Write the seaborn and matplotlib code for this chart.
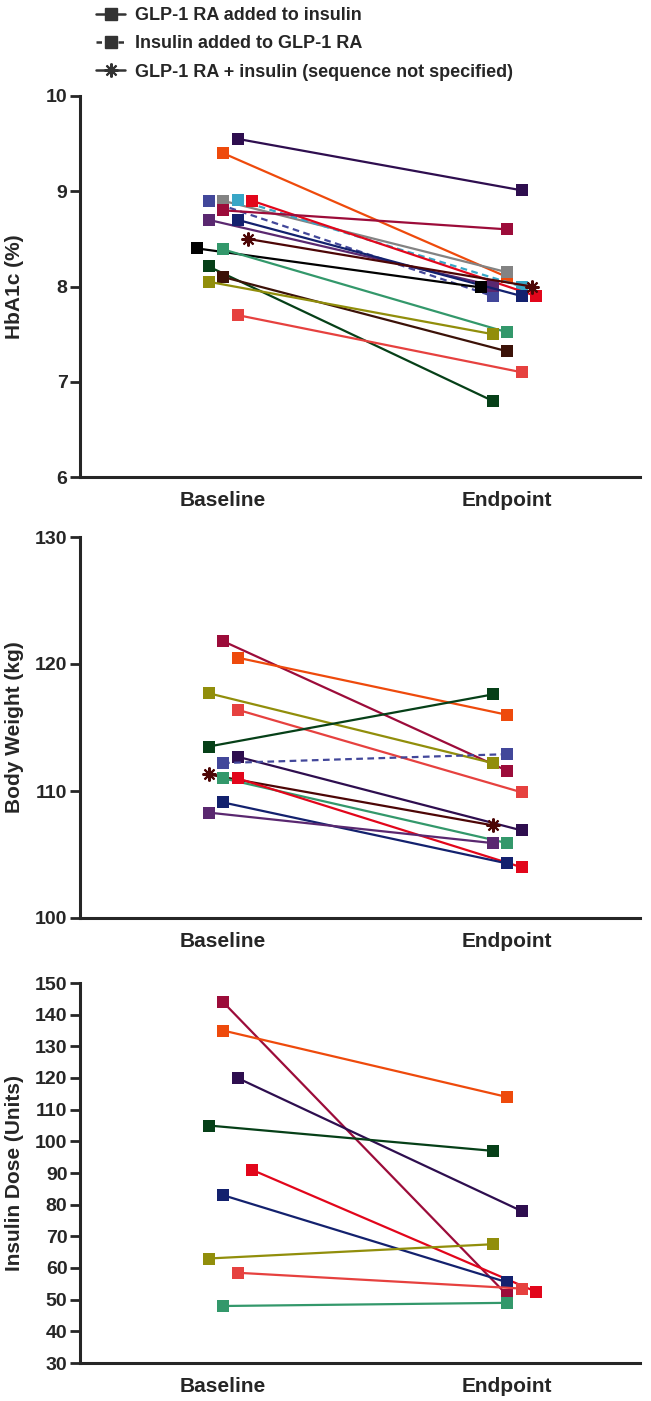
import numpy as np
import pandas as pd
import matplotlib
matplotlib.use("Agg")
import matplotlib.pyplot as plt
from matplotlib.lines import Line2D
import seaborn as sns

sns.set_style("white")
plt.rcParams["font.family"] = ["Liberation Sans", "DejaVu Sans"]
plt.rcParams["font.weight"] = "bold"

# study colours (one per study, shared across panels)
colors = {
    "dpurple": "#2e0e4f", "orange": "#ee4a0c", "bviolet": "#42479a", "gray": "#838383",
    "teal": "#38a6c6", "red": "#e2061b", "dred": "#9c0c3a", "purple": "#5a2870",
    "navy": "#13216e", "aster": "#4d0606", "black": "#000000", "green": "#33986b",
    "dgreen": "#064018", "brown": "#3c1208", "olive": "#918e0b", "pink": "#e6413f",
}
dashed = ["bviolet", "teal"]
asterisk = ["aster"]

# HbA1c (%)
hba1c_study = ["dpurple", "orange", "bviolet", "gray", "teal", "red", "dred", "purple",
               "navy", "aster", "black", "green", "dgreen", "brown", "olive", "pink"]
hba1c_base = [9.55, 9.40, 8.90, 8.90, 8.91, 8.90, 8.80, 8.70, 8.70, 8.50, 8.40, 8.39, 8.21, 8.10, 8.05, 7.70]
hba1c_end = [9.01, 8.10, 7.90, 8.15, 8.00, 7.90, 8.60, 8.01, 7.90, 8.00, 7.99, 7.52, 6.80, 7.32, 7.50, 7.10]

# Body weight (kg)
bw_study = ["dred", "orange", "olive", "pink", "dgreen", "dpurple", "bviolet", "aster",
            "green", "red", "navy", "purple"]
bw_base = [121.8, 120.5, 117.7, 116.4, 113.5, 112.7, 112.2, 111.3, 111.0, 111.0, 109.1, 108.3]
bw_end = [111.6, 116.0, 112.2, 109.9, 117.6, 106.9, 112.9, 107.3, 105.9, 104.0, 104.3, 105.9]

# Insulin dose (units)
ins_study = ["dred", "orange", "dpurple", "dgreen", "red", "navy", "olive", "pink", "green"]
ins_base = [144, 135, 120, 105, 91, 83, 63, 58.5, 48]
ins_end = [51.5, 114, 78, 97, 52.5, 55.5, 67.5, 53.5, 49]

time_labels = ["Baseline", "Endpoint"]

# horizontal jitter slot of each marker (baseline, endpoint)
hba1c_slot = [(1, 1), (0, 0), (-1, -1), (0, 0), (1, 1), (2, 2), (0, 0), (-1, -1),
              (1, 1), (1.7, 1.7), (-1.8, -1.8), (0, 0), (-1, -1), (0, 0), (-1, -1), (1, 1)]
bw_slot = [(0, 0), (1, 0), (-1, -1), (1, 1), (-1, -1), (1, 1), (0, 0), (-1, -1),
           (0, 0), (1, 1), (0, 0), (-1, -1)]
ins_slot = [(0, 0), (0, 0), (1, 1), (-1, -1), (2, 2), (0, 0), (-1, -1), (1, 1), (0, 0)]


def long_table(studies, base, end, slot):
    rows = []
    for s, b, e, k in zip(studies, base, end, slot):
        rows.append({"study": s, "time": 0, "slot": k[0], "value": b})
        rows.append({"study": s, "time": 1, "slot": k[1], "value": e})
    return pd.DataFrame(rows)


# horizontal layout (pixel-like data units)
centers = [223, 507]
step = 14.5
x_left, x_right = 80, 640

fig = plt.figure(figsize=(6.51, 14.01), dpi=100)
W, H = 651, 1401
panels = [
    (long_table(hba1c_study, hba1c_base, hba1c_end, hba1c_slot), "HbA1c (%)", (6, 10), np.arange(6, 11, 1), 96, 477),
    (long_table(bw_study, bw_base, bw_end, bw_slot), "Body Weight (kg)", (100, 130), np.arange(100, 131, 10), 537, 918),
    (long_table(ins_study, ins_base, ins_end, ins_slot), "Insulin Dose (Units)", (30, 150), np.arange(30, 151, 10), 983, 1363),
]

for df, ylabel, ylim, yticks, top, bottom in panels:
    ax = fig.add_axes([x_left / W, 1 - bottom / H, (x_right - x_left) / W, (bottom - top) / H])
    df["x"] = [centers[t] + step * k for t, k in zip(df["time"], df["slot"])]
    for s in df["study"].unique():
        d = df[df["study"] == s]
        star = s in asterisk
        sns.lineplot(data=d, x="x", y="value", ax=ax, color=colors[s], lw=1.6,
                     linestyle=(0, (3, 2)) if s in dashed else "-",
                     marker=(8, 2, 0) if star else "s",
                     markersize=10 if star else 8, markeredgewidth=1.5 if star else 0,
                     markeredgecolor=colors[s], clip_on=False)
    ax.set_xlim(x_left, x_right)
    ax.set_ylim(*ylim)
    ax.set_yticks(yticks)
    ax.set_xticks(centers)
    ax.set_xticklabels(time_labels, fontsize=15, fontweight="bold")
    ax.tick_params(axis="y", labelsize=14, width=2, length=7, pad=2, direction="out", left=True)
    ax.tick_params(axis="x", length=0, pad=10)
    for lab in ax.get_yticklabels():
        lab.set_fontweight("bold")
    ax.set_xlabel("")
    ax.set_ylabel(ylabel, fontsize=15, fontweight="bold")
    ax.yaxis.set_label_coords((24 - x_left) / (x_right - x_left), 0.5)
    sns.despine(ax=ax)
    ax.spines["left"].set_linewidth(2.2)
    ax.spines["bottom"].set_linewidth(2.2)

handles = [
    Line2D([], [], color="#333333", lw=1.8, marker="s", markersize=8),
    Line2D([], [], color="#333333", lw=1.8, ls=(0, (2.2, 2.2)), marker="s", markersize=8),
    Line2D([], [], color="#333333", lw=1.8, marker=(8, 2, 0), markersize=10, markeredgewidth=1.5),
]
labels = ["GLP-1 RA added to insulin", "Insulin added to GLP-1 RA",
          "GLP-1 RA + insulin (sequence not specified)"]
fig.legend(handles, labels, loc="upper left", bbox_to_anchor=(89 / W, 1.0), frameon=False,
           prop={"size": 13, "weight": "bold"}, handlelength=1.6, handletextpad=0.55,
           labelspacing=0.62, borderaxespad=0.0)

fig.savefig("out.png", dpi=100)
